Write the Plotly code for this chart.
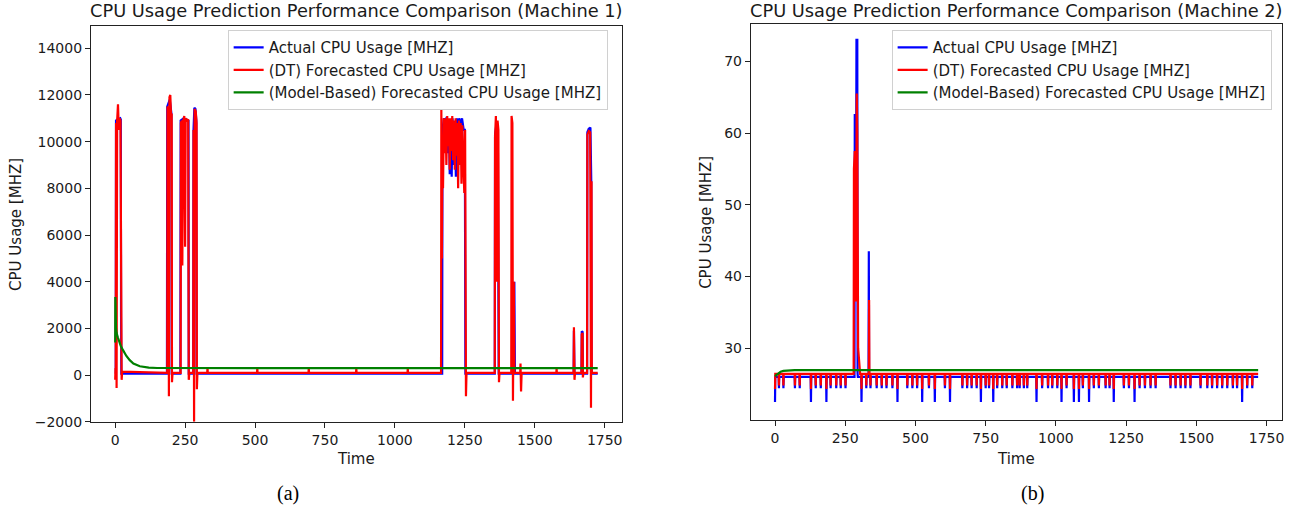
import plotly.graph_objects as go

# ---------------- Machine 1 (panel a) : polyline vertices
m1_actual_x = [0, 2, 3, 8, 18, 20, 21, 22,
               185, 186, 195, 201, 202,
               233, 234, 245, 255, 262, 263,
               279, 280, 283, 287, 290, 291,
               1169, 1170, 1175, 1180, 1185, 1190, 1193, 1196, 1199, 1203, 1206, 1210, 1214, 1218,
               1222, 1226, 1230, 1235, 1240, 1246, 1250, 1252,
               1357, 1358, 1362, 1368, 1371,
               1426, 1427, 1429,
               1639, 1640, 1642,
               1667, 1668, 1671, 1672,
               1687, 1688, 1693, 1699, 1702, 1703, 1725]
m1_actual_y = [60, 60, 10900, 10950, 11000, 10950, 2500, 60,
               60, 11500, 11800, 11200, 60,
               60, 10900, 11000, 10950, 10900, 60,
               60, 10500, 11450, 11400, 10900, 60,
               60, 10500, 11000, 10800, 11050, 9500, 10900, 8600, 10900, 8500, 11000, 9000, 10800, 8500,
               11000, 9200, 11000, 10700, 11000, 10500, 10500, 60,
               60, 10300, 10650, 10600, 60,
               60, 4000, 60,
               60, 1900, 60,
               60, 1880, 1850, 60,
               60, 10400, 10550, 10600, 8300, 60, 60]

m1_dt_x = [0, 1, 2, 3, 5, 7, 10, 13, 16, 19, 21, 23, 25,
           186, 187, 190, 192, 194, 197, 200, 202, 203, 205,
           234, 235, 238, 240, 243, 247, 250, 252, 256, 261, 263, 265,
           279, 280, 282, 284, 288, 291, 292, 294,
           329, 330, 331, 507, 508, 509, 691, 692, 693, 861, 862, 863, 1045, 1046, 1047,
           1165, 1166, 1168, 1170, 1172, 1175, 1178, 1181, 1184, 1187, 1190, 1193, 1196, 1199, 1202,
           1205, 1208, 1211, 1214, 1217, 1220, 1223, 1226, 1229, 1232, 1235, 1238, 1241, 1244, 1248,
           1251, 1254, 1256,
           1357, 1358, 1361, 1364, 1367, 1370, 1372, 1374,
           1416, 1417, 1420, 1422, 1425, 1427,
           1448, 1449, 1451, 1453,
           1577, 1578, 1579,
           1639, 1640, 1642, 1644,
           1667, 1668, 1671, 1672, 1674,
           1687, 1688, 1693, 1698, 1701, 1703, 1704, 1725]
m1_dt_y = [-200, 300, -100, 10800, -550, 10900, 11600, 10500, 11000, 10900, 1000, -200, 150,
           100, 11500, 11450, -900, 11900, 12000, 11000, 11200, -300, 100,
           100, 10800, 10900, 4700, 10900, 11100, 5500, 11000, 10900, 10950, -200, 100,
           100, 10500, -2000, 11400, 11300, 10800, -600, 100,
           100, 330, 100, 100, 300, 100, 100, 300, 100, 100, 280, 100, 100, 280, 100,
           100, 11400, 5000, 10200, 8000, 11000, 9500, 11000, 9000, 11100, 9800, 11000, 8800, 11000, 9600,
           11100, 9200, 10900, 8800, 11000, 9400, 10800, 8000, 10900, 9000, 10800, 8200, 10700, 9800, 7800,
           10500, -900, 100,
           100, 10200, 11100, 4000, 10900, 10500, -300, 100,
           100, 11100, 10800, -1100, 4000, 100,
           100, 500, -700, 100,
           100, 280, 100,
           100, 2050, -200, 100,
           100, 1750, 1800, -100, 100,
           100, 10300, 10450, 10400, -1400, 8300, 100, 100]

m1_model_x = [0, 0.5, 3, 5, 10, 15, 20, 28, 40, 52, 65, 88, 120, 150, 1725]
m1_model_y = [1400, 3350, 2000, 1800, 1600, 1400, 1250, 1070, 820, 640, 500, 380, 320, 305, 300]

# ---------------- Machine 2 (panel b)
m2_base_actual = 26.0
m2_base_dt = 26.4
m2_long_dips = [0, 128, 183, 308, 436, 524, 569, 623, 733, 777, 931, 1020, 1064, 1082,
                1118, 1206, 1280, 1663]
m2_short_dips = [14, 30, 71, 88, 145, 163, 198, 218, 234, 251, 325, 340, 362, 380, 397, 418,
                 471, 489, 506, 548, 605, 667, 684, 700, 718, 750, 762, 791, 809, 825, 845, 862,
                 871, 886, 898, 951, 972, 987, 1005, 1038, 1096, 1135, 1153, 1177, 1191, 1242,
                 1260, 1298, 1317, 1337, 1355, 1408, 1426, 1444, 1461, 1479, 1515, 1539, 1556,
                 1574, 1592, 1610, 1630, 1645, 1681, 1699]
m2_long_depth_actual = 22.5
m2_short_depth_actual = 24.4
m2_long_depth_dt = 24.3
m2_short_depth_dt = 24.8
m2_spike_actual_x = [283, 284, 287, 288, 290, 293, 294, 295, 333, 334, 335]
m2_spike_actual_y = [26.0, 62.5, 62.5, 38.5, 73.0, 73.0, 26.5, 26.0, 26.0, 43.5, 26.0]
m2_spike_dt_x = [280, 281, 284, 288, 291, 293, 296, 300, 303, 334, 335, 336]
m2_spike_dt_y = [26.4, 55.0, 57.5, 36.5, 65.5, 60.0, 30.0, 27.0, 26.4, 26.4, 36.7, 26.4]
m2_end = 1720
m2_model_x = [0, 10, 20, 30, 45, 70, 1720]
m2_model_y = [26.1, 26.45, 26.7, 26.82, 26.9, 26.93, 26.93]


def build_series(base, long_dips, long_depth, short_dips, short_depth, spike_x, spike_y, end):
    pts = []
    for d in long_dips:
        pts += [(d - 1, base), (d, long_depth), (d + 1, base)]
    for d in short_dips:
        pts += [(d - 1, base), (d, short_depth), (d + 1, base)]
    pts += list(zip(spike_x, spike_y))
    pts += [(end, base)]
    pts = [p for p in pts if p[0] >= 0]
    pts.sort(key=lambda p: p[0])
    return [p[0] for p in pts], [p[1] for p in pts]


m2_actual_x, m2_actual_y = build_series(m2_base_actual, m2_long_dips, m2_long_depth_actual,
                                        m2_short_dips, m2_short_depth_actual,
                                        m2_spike_actual_x, m2_spike_actual_y, m2_end)
m2_dt_x, m2_dt_y = build_series(m2_base_dt, m2_long_dips, m2_long_depth_dt,
                                m2_short_dips, m2_short_depth_dt,
                                m2_spike_dt_x, m2_spike_dt_y, m2_end)

names = ["Actual CPU Usage [MHZ]", "(DT) Forecasted CPU Usage [MHZ]",
         "(Model-Based) Forecasted CPU Usage [MHZ]"]
colors = ["#0000ff", "#ff0000", "#008000"]
titles = ["CPU Usage Prediction Performance Comparison (Machine 1)",
          "CPU Usage Prediction Performance Comparison (Machine 2)"]
x_ticks = [0, 250, 500, 750, 1000, 1250, 1500, 1750]
m1_y_ticks = [-2000, 0, 2000, 4000, 6000, 8000, 10000, 12000, 14000]
m2_y_ticks = [30, 40, 50, 60, 70]
captions = ["(a)", "(b)"]

W, H = 1300, 509
KY = 1.018   # empirical vertical correction
KX = 1.0
FONT = "DejaVu Sans"
TXT = "#1a1a1a"

fig = go.Figure()
lw = 2.2
panel = [
    (m1_actual_x, m1_actual_y, m1_dt_x, m1_dt_y, m1_model_x, m1_model_y, "x", "y", "legend"),
    (m2_actual_x, m2_actual_y, m2_dt_x, m2_dt_y, m2_model_x, m2_model_y, "x2", "y2", "legend2"),
]
for (ax, ay, dx, dy, mx, my, xa, ya, lg) in panel:
    for (xs, ys, nm, c) in [(ax, ay, names[0], colors[0]), (dx, dy, names[1], colors[1]),
                            (mx, my, names[2], colors[2])]:
        fig.add_trace(go.Scatter(x=xs, y=ys, mode="lines", name=nm, xaxis=xa, yaxis=ya,
                                 line=dict(color=c, width=lw), legend=lg, legendgroup=lg + nm))


def px2x(px):
    return min(1.0, px * KX / W)


def px2y(py):
    return max(0.0, 1 - py * KY / H)


axis_common = dict(showline=True, linecolor="#222", linewidth=1, mirror=True, ticks="outside",
                   ticklen=5, tickwidth=1, tickcolor="#222", showgrid=False, zeroline=False,
                   tickfont=dict(family=FONT, size=14, color=TXT))

l_box = (91, 623, 26, 421)
r_box = (752, 1284, 24, 419)

leg_common = dict(xanchor="left", yanchor="top", bgcolor="rgba(255,255,255,0.8)",
                  bordercolor="#d0d0d0", borderwidth=1, itemwidth=30,
                  font=dict(family=FONT, size=15, color=TXT), tracegroupgap=0)

fig.update_layout(
    width=W, height=H, margin=dict(l=0, r=0, t=0, b=0),
    paper_bgcolor="white", plot_bgcolor="white",
    xaxis=dict(domain=[px2x(l_box[0]), px2x(l_box[1])], range=[-87, 1812], anchor="y",
               tickvals=x_ticks, ticktext=[str(v) for v in x_ticks], **axis_common),
    yaxis=dict(domain=[px2y(l_box[3]), px2y(l_box[2])], range=[-2000, 14950], anchor="x",
               tickvals=m1_y_ticks, ticktext=[str(v).replace("-", "\u2212") for v in m1_y_ticks],
               **axis_common),
    xaxis2=dict(domain=[px2x(r_box[0]), px2x(r_box[1])], range=[-86, 1805], anchor="y2",
                tickvals=x_ticks, ticktext=[str(v) for v in x_ticks], **axis_common),
    yaxis2=dict(domain=[px2y(r_box[3]), px2y(r_box[2])], range=[20.0, 75.2], anchor="x2",
                tickvals=m2_y_ticks, ticktext=[str(v) for v in m2_y_ticks], **axis_common),
    legend=dict(x=px2x(228), y=px2y(30), **leg_common),
    legend2=dict(x=px2x(893), y=px2y(30), **leg_common),
    showlegend=True,
)

ann = []
for box, title, cap, ytitle_x, cap_x in [(l_box, titles[0], captions[0], 16, 288),
                                          (r_box, titles[1], captions[1], 707, 1034)]:
    cx = (box[0] + box[1]) / 2
    cy = (box[2] + box[3]) / 2
    ann.append(dict(text=title, x=px2x(cx), y=px2y(10), xref="paper", yref="paper",
                    showarrow=False, xanchor="center", yanchor="middle",
                    font=dict(family=FONT, size=17.8, color=TXT)))
    ann.append(dict(text="Time", x=px2x(cx), y=px2y(458), xref="paper", yref="paper",
                    showarrow=False, xanchor="center", yanchor="middle",
                    font=dict(family=FONT, size=15, color=TXT)))
    ann.append(dict(text="CPU Usage [MHZ]", x=px2x(ytitle_x), y=px2y(cy), xref="paper",
                    yref="paper", showarrow=False, xanchor="center", yanchor="middle",
                    textangle=-90, font=dict(family=FONT, size=15, color=TXT)))
    ann.append(dict(text=cap, x=px2x(cap_x), y=px2y(493), xref="paper", yref="paper",
                    showarrow=False, xanchor="center", yanchor="middle",
                    font=dict(family="Liberation Serif", size=20, color="#000")))
fig.update_layout(annotations=ann)

fig.write_html("out.html", config={"displayModeBar": False},
               post_script="document.body.style.margin='0';document.body.style.overflow='hidden';")
